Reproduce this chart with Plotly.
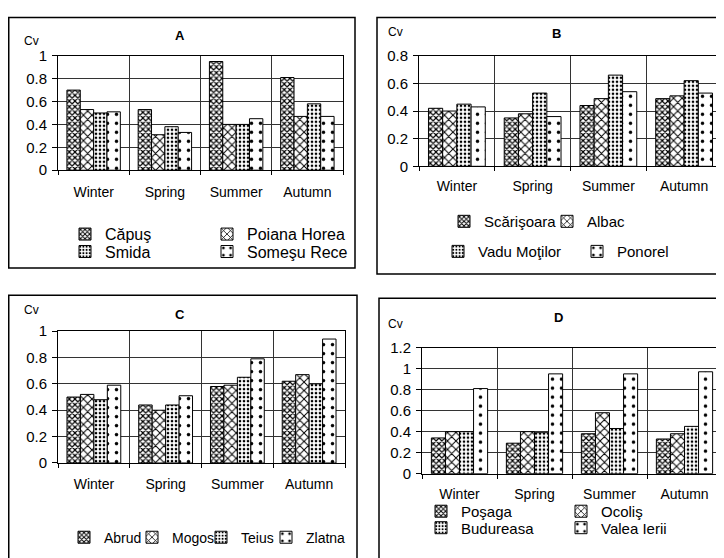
import plotly.graph_objects as go

W, H = 724, 558
seasons = ["Winter", "Spring", "Summer", "Autumn"]

# ---- data ----
a_names = ["Căpuş", "Poiana Horea", "Smida", "Someşu Rece"]
a_capus = [0.70, 0.53, 0.95, 0.81]
a_poiana = [0.53, 0.31, 0.40, 0.47]
a_smida = [0.50, 0.38, 0.40, 0.58]
a_somesu = [0.51, 0.33, 0.45, 0.47]

b_names = ["Scărişoara", "Albac", "Vadu Moţilor", "Ponorel"]
b_scarisoara = [0.42, 0.35, 0.44, 0.49]
b_albac = [0.40, 0.38, 0.49, 0.51]
b_vadu = [0.45, 0.53, 0.66, 0.62]
b_ponorel = [0.43, 0.36, 0.54, 0.53]

c_names = ["Abrud", "Mogos", "Teius", "Zlatna"]
c_abrud = [0.50, 0.44, 0.58, 0.62]
c_mogos = [0.52, 0.40, 0.59, 0.67]
c_teius = [0.48, 0.44, 0.65, 0.60]
c_zlatna = [0.59, 0.51, 0.79, 0.94]

d_names = ["Poşaga", "Ocoliş", "Budureasa", "Valea Ierii"]
d_posaga = [0.34, 0.29, 0.38, 0.33]
d_ocolis = [0.40, 0.40, 0.58, 0.38]
d_budureasa = [0.40, 0.39, 0.43, 0.45]
d_valea = [0.81, 0.95, 0.95, 0.97]

ticks_a = [0, 0.2, 0.4, 0.6, 0.8, 1]
ticks_b = [0, 0.2, 0.4, 0.6, 0.8]
ticks_c = [0, 0.2, 0.4, 0.6, 0.8, 1]
ticks_d = [0, 0.2, 0.4, 0.6, 0.8, 1, 1.2]
panel_titles = ["A", "B", "C", "D"]
y_title = "Cv"

# ---- layout helpers (page body margin compensation) ----
OFF = 8

def px(x):
    return (x - OFF) / W

def py(y):
    return 1 - (y - OFF) / H

FONT = "Arial, Liberation Sans, sans-serif"

patterns = [
    dict(shape="x", size=4, solidity=0.5),
    dict(shape="x", size=6, solidity=0.3),
    dict(shape=".", size=4, solidity=0.35),
    dict(shape=".", size=9, solidity=0.12),
]

# leg: (symbol centre x, row centre y) in page pixels
panels = [
    dict(names=a_names, series=[a_capus, a_poiana, a_smida, a_somesu], ticks=ticks_a,
         rng=[0, 1], plot=(58, 343, 48, 166), box=(8.75, 355, 8.5, 267),
         title=(180, 27), cv=(31, 33), standoff=9, legfont=16,
         leg=[(85, 232), (227, 232), (85, 250), (227, 250)]),
    dict(names=b_names, series=[b_scarisoara, b_albac, b_vadu, b_ponorel], ticks=ticks_b,
         rng=[0, 0.8], plot=(419, 722, 48, 162), box=(377, 740, 8.5, 273),
         title=(556, 25), cv=(395, 23), standoff=7, legfont=15,
         leg=[(464, 219), (567, 219), (458, 250), (597, 250)]),
    dict(names=c_names, series=[c_abrud, c_mogos, c_teius, c_zlatna], ticks=ticks_c,
         rng=[0, 1], plot=(58, 345, 332, 468), box=(8.75, 357, 295, 580),
         title=(180, 315), cv=(31, 310), standoff=8, legfont=14,
         leg=[(84, 545), (152, 545), (221, 545), (286, 545)]),
    dict(names=d_names, series=[d_posaga, d_ocolis, d_budureasa, d_valea], ticks=ticks_d,
         rng=[0, 1.2], plot=(422, 722, 349, 479), box=(379, 740, 298, 580),
         title=(558, 318), cv=(395, 325), standoff=8, legfont=15,
         leg=[(441, 518), (581, 518), (441, 535), (581, 535)]),
]

fig = go.Figure()
layout = dict(
    width=W, height=H, margin=dict(l=0, r=0, t=0, b=0),
    paper_bgcolor="white", plot_bgcolor="white",
    font=dict(family=FONT, size=14, color="black"),
    barmode="group", bargap=0.25, bargroupgap=0, showlegend=True,
    shapes=[], annotations=[],
)

legend_idx = 0
for i, p in enumerate(panels):
    n = "" if i == 0 else str(i + 1)
    xa, ya = "x" + n, "y" + n
    x0, x1, y0, y1 = p["plot"]
    layout["xaxis" + n] = dict(
        domain=[px(x0), px(x1)], anchor=ya, type="category",
        tickson="boundaries", ticks="outside", ticklen=4, tickcolor="black",
        showgrid=True, gridcolor="#333", gridwidth=1,
        showline=True, linecolor="black", linewidth=1, mirror=True,
        tickfont=dict(size=14), ticklabelstandoff=p["standoff"],
    )
    layout["yaxis" + n] = dict(
        domain=[py(y1), py(y0)], anchor=xa, range=p["rng"],
        tickvals=p["ticks"], ticktext=[f"{t:g}" for t in p["ticks"]],
        ticks="outside", ticklen=5, tickcolor="black", ticklabelstandoff=2,
        showgrid=True, gridcolor="#333", gridwidth=1, zeroline=False,
        showline=True, linecolor="black", linewidth=1, mirror=True,
        tickfont=dict(size=15),
    )
    bx0, bx1, by0, by1 = p["box"]
    layout["shapes"].append(dict(
        type="rect", xref="paper", yref="paper", layer="below",
        x0=px(bx0), x1=px(bx1), y0=py(by1), y1=py(by0),
        line=dict(color="black", width=1.5), fillcolor="rgba(0,0,0,0)"))
    layout["annotations"].append(dict(
        text="<b>" + panel_titles[i] + "</b>", xref="paper", yref="paper",
        x=px(p["title"][0]), y=py(p["title"][1]), showarrow=False,
        xanchor="center", yanchor="middle", font=dict(size=13)))
    layout["annotations"].append(dict(
        text=y_title, xref="paper", yref="paper",
        x=px(p["cv"][0]), y=py(p["cv"][1]), showarrow=False,
        xanchor="center", yanchor="middle", font=dict(size=12)))
    for j, (name, vals) in enumerate(zip(p["names"], p["series"])):
        legend_idx += 1
        lname = "legend" if legend_idx == 1 else "legend" + str(legend_idx)
        fig.add_trace(go.Bar(
            x=seasons, y=vals, name=name, xaxis=xa, yaxis=ya, legend=lname,
            offsetgroup=str(j),
            marker=dict(color="white", line=dict(color="black", width=1),
                        pattern=dict(fgcolor="black", bgcolor="white",
                                     fillmode="replace", **patterns[j])),
        ))
        sx, sy = p["leg"][j]
        layout[lname] = dict(
            x=px(sx - 20), y=py(sy), xanchor="left", yanchor="middle",
            bgcolor="rgba(0,0,0,0)", borderwidth=0,
            font=dict(size=p["legfont"]), itemclick=False,
        )

fig.update_layout(**layout)
fig.write_html("out.html")
